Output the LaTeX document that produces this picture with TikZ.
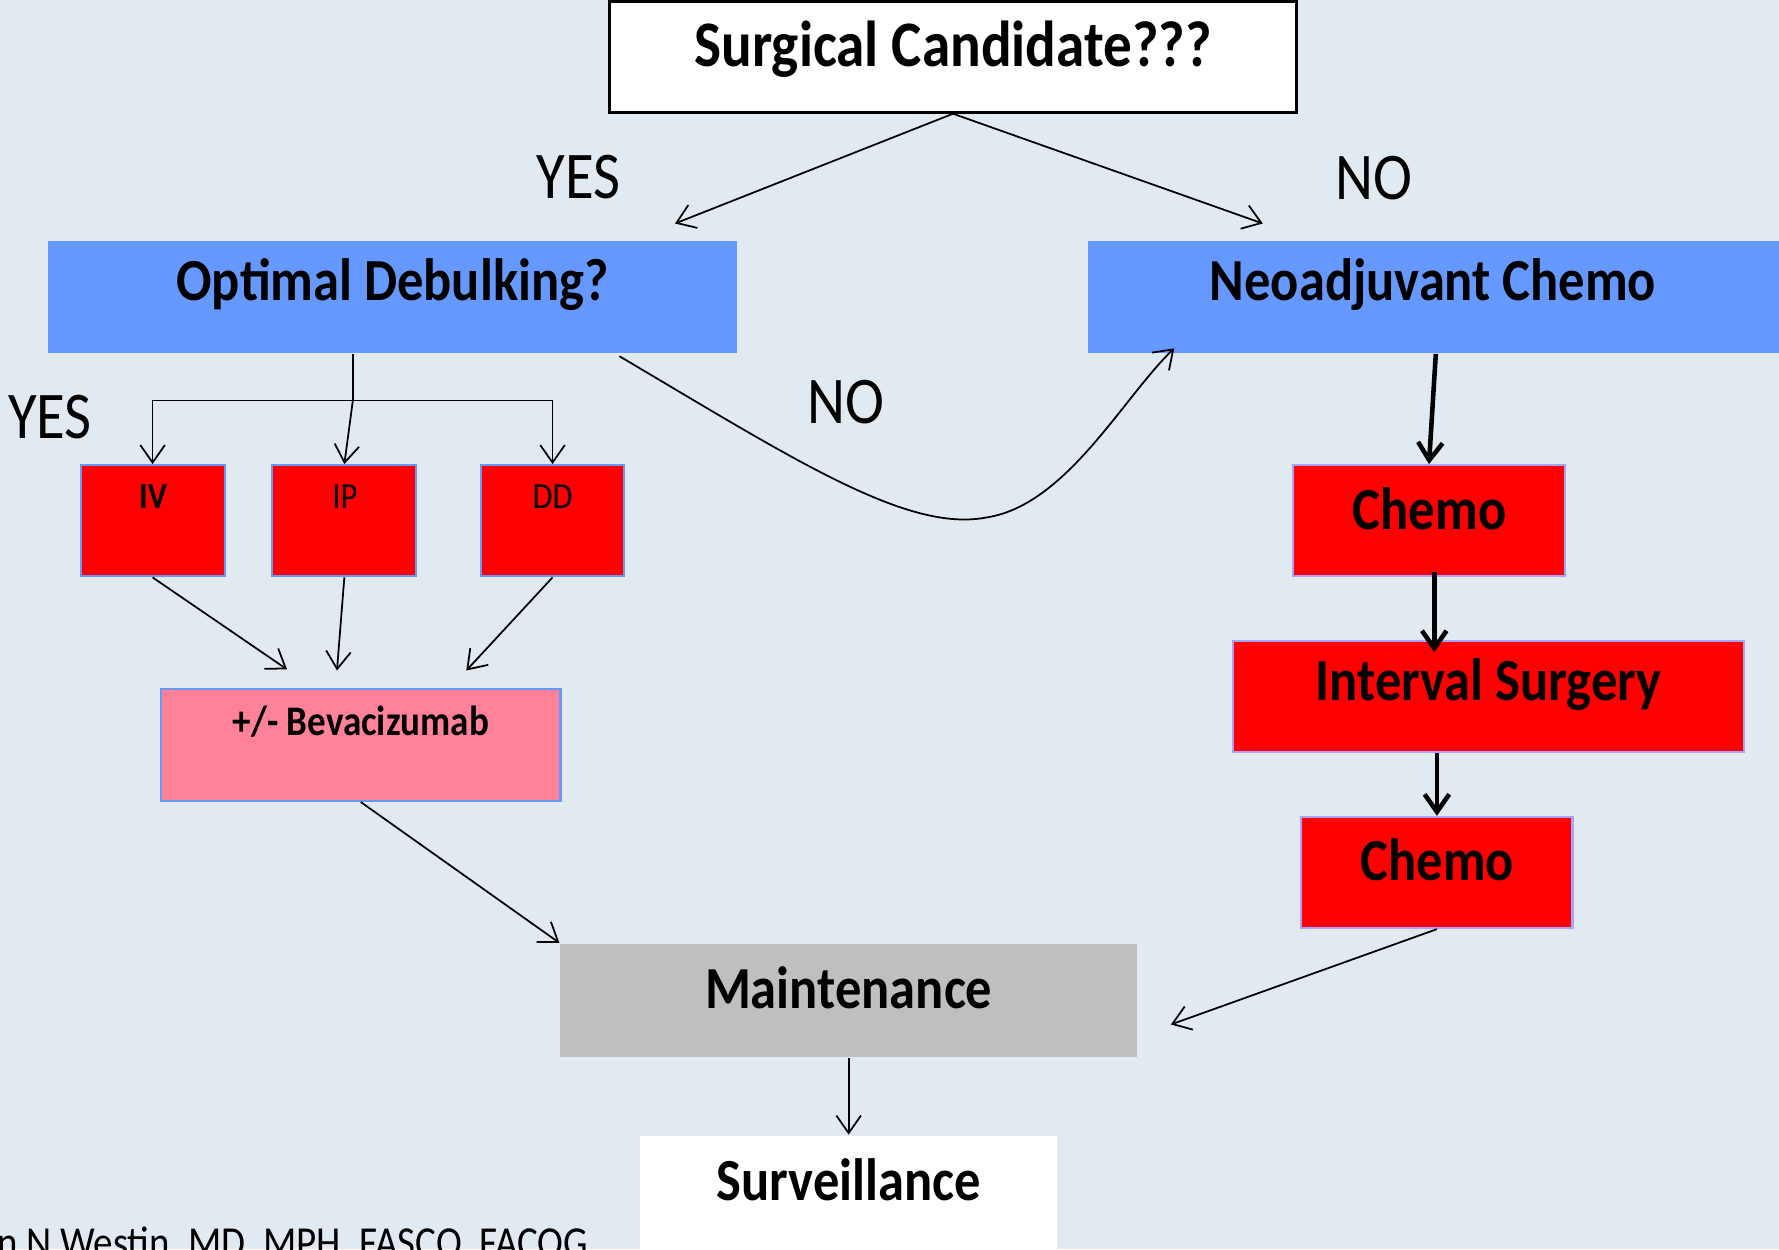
\documentclass[tikz,border=0pt]{standalone}
\usepackage{fontspec}
\setmainfont{Carlito}[FakeStretch=0.88]
\usetikzlibrary{arrows.meta,fit}

\definecolor{slidebg}{RGB}{225,234,241}
\definecolor{optblue}{RGB}{102,153,255}
\definecolor{chemored}{RGB}{255,0,0}
\definecolor{bevpink}{RGB}{255,130,153}
\definecolor{maintgray}{RGB}{191,191,191}
\definecolor{lavender}{RGB}{165,165,255}

\tikzset{
  box/.style={inner sep=0pt, line width=0.6pt},
  bluebox/.style={box, fill=optblue},
  redbox/.style={box, fill=chemored, draw=optblue},
  chemobox/.style={box, fill=chemored, draw=lavender},
  pinkbox/.style={box, fill=bevpink, draw=optblue},
  graybox/.style={box, fill=maintgray},
  bigtxt/.style={font=\fontsize{17}{20}\selectfont\bfseries, inner sep=0pt},
  lbl/.style={font=\fontsize{19}{22}\selectfont, inner sep=0pt},
  smalltxt/.style={font=\fontsize{10.5}{12}\selectfont, inner sep=0pt},
  thinarr/.style={-{Straight Barb[length=5pt,width=7pt]}, line width=0.5pt},
  thickarr/.style={-{Straight Barb[length=5pt,width=7pt]}, line width=1.3pt},
}

\begin{document}
\begin{tikzpicture}[x=0.011346cm,y=-0.011346cm]
\useasboundingbox (0,0) rectangle (1568,1101);
\clip (0,0) rectangle (1568,1101);
\fill[slidebg] (0,0) rectangle (1568,1101);

% boxes
\node[box, draw=black, line width=0.8pt, fill=white, fit={(537,1) (1143,99)}] (surg) {};
\node[bluebox, fit={(42,212) (650,311)}] (opt) {};
\node[bluebox, fit={(959,212) (1572,311)}] (neo) {};
\node[redbox, fit={(71,410) (198,508)}] (iv) {};
\node[redbox, fit={(240,410) (367,508)}] (ip) {};
\node[redbox, fit={(424,410) (550,508)}] (dd) {};
\node[pinkbox, fit={(142,607) (494,706)}] (bev) {};
\node[chemobox, fit={(1140,410) (1379,508)}] (chemoA) {};
\node[chemobox, fit={(1087,565) (1537,663)}] (intsurg) {};
\node[chemobox, fit={(1147,720) (1386,818)}] (chemoB) {};
\node[graybox, fit={(494,832) (1002,932)}] (maint) {};
\node[box, fill=white, fit={(564,1001) (932,1110)}] (surv) {};

% texts
\node[bigtxt, font=\fontsize{18.5}{22}\selectfont\bfseries] (surgT) at (840,43) {Surgical Candidate???};
\node[bigtxt] (optT) at (346,251) {Optimal Debulking?};
\node[bigtxt] (neoT) at (1263,251) {Neoadjuvant Chemo};
\node[smalltxt, font=\fontsize{10.5}{12}\selectfont\bfseries] (ivT) at (135,438) {IV};
\node[smalltxt] (ipT) at (304,438) {IP};
\node[smalltxt] (ddT) at (487,438) {DD};
\node[smalltxt, font=\fontsize{12}{14}\selectfont\bfseries] (bevT) at (318,636) {+/- Bevacizumab};
\node[bigtxt] (chemoAT) at (1260,448) {Chemo};
\node[bigtxt] (intsurgT) at (1312,603) {Interval Surgery};
\node[bigtxt] (chemoBT) at (1267,758) {Chemo};
\node[bigtxt] (maintT) at (748,871) {Maintenance};
\node[bigtxt] (survT) at (748,1040) {Surveillance};

\node[lbl] (yesA) at (510,156) {YES};
\node[lbl] (noA) at (1211,157) {NO};
\node[lbl] (yesB) at (44,368) {YES};
\node[lbl] (noB) at (746,354) {NO};
\node[smalltxt, font=\fontsize{12.6}{14}\selectfont, anchor=north west] (credit) at (-3,1081) {n N Westin, MD, MPH, FASCO, FACOG};

% free ends
\coordinate (yesEnd) at (595,197);
\coordinate (noEnd) at (1113,197);
\coordinate (split) at (311,353);
\coordinate (bevA) at (253,590);
\coordinate (bevB) at (297,591);
\coordinate (bevC) at (411,591);
\coordinate (maintR) at (1032,903);
\coordinate (curveS) at (546,314);
\coordinate (curveE) at (1035,307);

% connectors
\draw[thinarr] (surg.south) -- (yesEnd);
\draw[thinarr] (surg.south) -- (noEnd);
\draw[line width=0.5pt] (split |- opt.south) -- (split);
\draw[thinarr] (split) -| (iv.north);
\draw[thinarr] (split) -| (dd.north);
\draw[thinarr] (split) -- (ip.north);
\draw[thinarr] (iv.south) -- (bevA);
\draw[thinarr] (ip.south) -- (bevB);
\draw[thinarr] (dd.south) -- (bevC);
\draw[thinarr] (bev.south) -- (maint.north west);
\draw[thinarr] (maint.south) -- (surv.north);
\draw[thinarr] (chemoB.south) -- (maintR);
\draw[thinarr] (curveS) .. controls (700,405) and (800,470) .. (870,456)
  .. controls (940,445) and (990,350) .. (curveE);
\draw[thickarr] (neo.south) -- (chemoA.north);
\draw[thickarr, shorten <=-1.6pt, shorten >=-3.5pt] ([xshift=1.5pt]chemoA.south) -- ([xshift=1.5pt]chemoA.south |- intsurg.north);
\draw[thickarr] (chemoB.north |- intsurg.south) -- (chemoB.north);
\end{tikzpicture}
\end{document}
